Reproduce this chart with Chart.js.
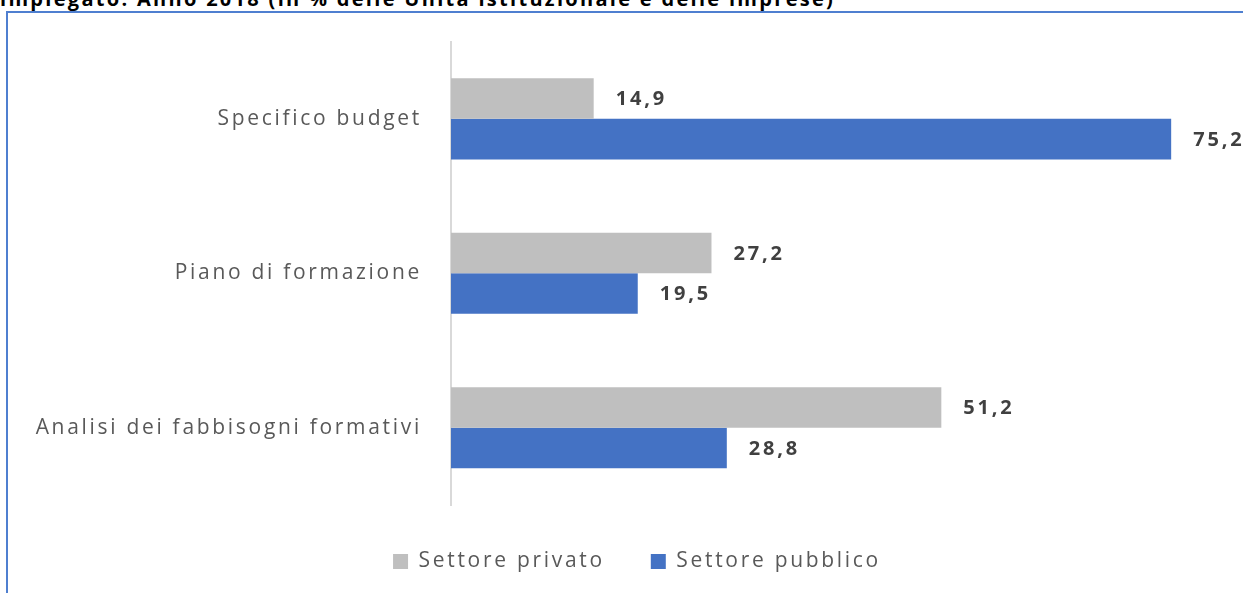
<!DOCTYPE html>
<html>
<head>
<meta charset="utf-8">
<script src="https://cdn.jsdelivr.net/npm/chart.js@4.4.1/dist/chart.umd.min.js"></script>
<style>
  html, body { margin: 0; padding: 0; background: #fff; overflow: hidden; }
  #wrap { position: relative; width: 1243px; height: 593px; }
  #title {
    position: absolute; left: 0; top: -11px; white-space: nowrap;
    font: bold 20px/20px "Open Sans", sans-serif; letter-spacing: 2.3px; color: #000;
  }
  #frame {
    position: absolute; left: 6px; top: 11px; right: -4px; bottom: -4px;
    border-top: 2px solid #4f7fd0; border-left: 2px solid #4f7fd0;
  }
  canvas { position: absolute; left: 0; top: 0; }
</style>
</head>
<body>
<div id="wrap">
  <div id="title">impiegato. Anno 2018 (in % delle Unità istituzionale e delle imprese)</div>
  <div id="frame"></div>
  <canvas id="chart" width="1243" height="593"></canvas>
</div>
<script>
const categories = ["Specifico budget", "Piano di formazione", "Analisi dei fabbisogni formativi"];
const privato = [14.9, 27.2, 51.2];
const pubblico = [75.2, 19.5, 28.8];
const seriesNames = ["Settore privato", "Settore pubblico"];

const spacing = "2.7px";

// wide letter spacing like the original
const spacingPlugin = {
  id: "spacing",
  beforeLayout(chart) { chart.ctx.letterSpacing = spacing; },
  beforeDraw(chart) { chart.ctx.letterSpacing = spacing; }
};

// value labels at the end of each bar
const valueLabels = {
  id: "valueLabels",
  afterDatasetsDraw(chart) {
    const ctx = chart.ctx;
    ctx.save();
    ctx.letterSpacing = "2.8px";
    ctx.font = "bold 20px 'Open Sans', sans-serif";
    ctx.fillStyle = "#404040";
    ctx.textAlign = "left";
    ctx.textBaseline = "middle";
    chart.data.datasets.forEach((ds, i) => {
      chart.getDatasetMeta(i).data.forEach((bar, j) => {
        ctx.fillText(ds.data[j].toFixed(1).replace(".", ","), bar.x + 22, bar.y + 1);
      });
    });
    ctx.restore();
  }
};

new Chart(document.getElementById("chart"), {
  type: "bar",
  data: {
    labels: categories,
    datasets: [
      { label: seriesNames[0], data: privato, backgroundColor: "#bfbfbf" },
      { label: seriesNames[1], data: pubblico, backgroundColor: "#4472c4" }
    ]
  },
  options: {
    indexAxis: "y",
    responsive: false,
    animation: false,
    datasets: { bar: { categoryPercentage: 0.525, barPercentage: 1 } },
    layout: { padding: { top: 41, right: 0, left: 31, bottom: 11 } },
    scales: {
      x: { display: false, min: 0, max: 82.7 },
      y: {
        afterFit(scale) { scale.width = 420; },
        grid: { display: false, drawTicks: false },
        border: { display: true, color: "#d9d9d9", width: 2 },
        ticks: {
          padding: 29,
          color: "#595959",
          font: { family: "'Open Sans', sans-serif", size: 21 }
        }
      }
    },
    plugins: {
      legend: {
        position: "bottom",
        labels: {
          color: "#595959",
          boxWidth: 15,
          boxHeight: 15,
          padding: 46,
          font: { family: "'Open Sans', sans-serif", size: 21 }
        }
      },
      tooltip: { enabled: false }
    }
  },
  plugins: [spacingPlugin, valueLabels]
});
</script>
</body>
</html>
